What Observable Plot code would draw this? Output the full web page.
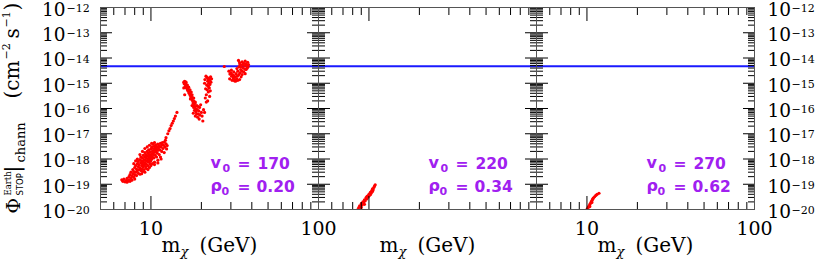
<!DOCTYPE html>
<html><head><meta charset="utf-8">
<script src="https://cdn.jsdelivr.net/npm/d3@7"></script>
<script src="https://cdn.jsdelivr.net/npm/@observablehq/plot@0.6"></script>
<style>html,body{margin:0;padding:0;background:#fff;} #chart svg{display:block;}</style>
</head><body><div id="chart"></div>
<script>
// ---- data ----
const panels = ["170", "220", "270"];
const v0Labels = ["170", "220", "270"];
const rho0Labels = ["0.20", "0.34", "0.62"];
const blueLimit = [4.7e-15];

// [m_chi (GeV), flux (cm^-2 s^-1)]
const pts170 = [
 [6.7,1.5e-19],[6.8,1.3e-19],[6.9,1.6e-19],[7.0,1.25e-19],[7.1,1.4e-19],[7.2,1.2e-19],[7.2,1.7e-19],[7.3,1.35e-19],
 [7.4,1.5e-19],[7.4,2.0e-19],[7.5,1.3e-19],[7.5,2.4e-19],[7.6,1.7e-19],[7.6,3.0e-19],[7.7,2.1e-19],[7.7,1.45e-19],
 [7.8,2.6e-19],[7.8,3.8e-19],[7.9,1.9e-19],[7.9,3.2e-19],[8.0,2.4e-19],[8.0,4.6e-19],[8.0,1.6e-19],[7.9,6.5e-19],
 [8.1,3.0e-19],[8.1,5.5e-19],[8.1,8.5e-19],[8.2,2.2e-19],[8.2,4.0e-19],[8.3,3.4e-19],[8.3,6.5e-19],[8.3,1.0e-18],
 [8.4,2.7e-19],[8.4,5.0e-19],[8.4,8.0e-19],[8.5,3.8e-19],[8.5,6.0e-19],[8.6,2.5e-19],[8.6,4.5e-19],[8.6,9.5e-19],
 [8.6,1.5e-18],[8.7,3.5e-19],[8.7,7.2e-19],[8.7,1.2e-18],[8.8,5.5e-19],[8.8,4.0e-19],[8.8,8.5e-19],[8.8,2.6e-19],
 [8.9,6.5e-19],[8.9,1.1e-18],[8.9,3.2e-19],[8.9,2.0e-18],[9.0,4.8e-19],[9.0,7.8e-19],[9.0,1.4e-18],[9.1,5.8e-19],
 [9.1,9.5e-19],[9.1,3.8e-19],[9.2,7.0e-19],[9.2,1.2e-18],[9.2,1.8e-18],[9.2,2.6e-18],[9.2,3.0e-19],[9.3,5.0e-19],
 [9.3,8.8e-19],[9.3,1.5e-18],[9.4,6.2e-19],[9.4,1.1e-18],[9.4,4.2e-19],[9.5,8.0e-19],[9.5,1.35e-18],[9.5,2.0e-18],
 [9.5,3.0e-18],[9.6,5.5e-19],[9.6,1.0e-18],[9.6,1.7e-18],[9.6,3.8e-19],[9.7,7.5e-19],[9.7,1.25e-18],[9.7,2.3e-18],
 [9.8,9.0e-19],[9.8,1.5e-18],[9.8,4.6e-19],[9.8,3.5e-18],[9.9,1.1e-18],[9.9,1.9e-18],[9.9,6.5e-19],[10.0,1.3e-18],
 [10.0,2.5e-18],[10.0,8.5e-19],[10.0,5.5e-19],[10.1,1.6e-18],[10.1,1.0e-18],[10.1,3.0e-18],[10.1,4.2e-18],[10.2,2.0e-18],
 [10.2,1.2e-18],[10.2,6.5e-19],[10.3,1.5e-18],[10.3,2.6e-18],[10.3,3.8e-18],[10.4,1.8e-18],[10.4,1.1e-18],[10.5,2.2e-18],
 [10.5,3.2e-18],[10.5,7.5e-19],[10.5,4.5e-18],[10.5,6.0e-19],[10.6,1.4e-18],[10.6,2.7e-18],[10.7,1.9e-18],[10.7,3.6e-18],
 [10.8,2.4e-18],[10.8,1.2e-18],[10.9,3.0e-18],[10.9,1.7e-18],[11.0,2.2e-18],[11.0,3.9e-18],[11.0,9.0e-19],[11.0,7.0e-19],
 [11.1,2.8e-18],[11.2,1.5e-18],[11.2,3.4e-18],[11.3,2.3e-18],[11.4,4.2e-18],[11.4,1.2e-18],[11.5,3.0e-18],[11.5,1.0e-18],
 [11.6,2.0e-18],[11.6,3.7e-18],[11.7,4.5e-18],[11.8,2.6e-18],[11.9,3.5e-18],[12.0,4.6e-18],[12.0,1.8e-18],[12.1,3.0e-18],
 [12.3,4.0e-18],[12.4,2.5e-18],[12.5,3.4e-18],
 [12.2,5.5e-18],[12.3,7.0e-18],[12.6,1.0e-17],[12.8,1.3e-17],[13.0,1.6e-17],[13.2,2.1e-17],[13.4,2.6e-17],[13.6,3.2e-17],
 [13.8,4.0e-17],[14.0,5.0e-17],[14.3,7.0e-17],
 [15.7,1.1e-15],[15.8,9.5e-16],[15.9,1.2e-15],[16.0,1.05e-15],[16.1,8.0e-16],[16.0,7.0e-16],[16.2,9.0e-16],[16.3,6.5e-16],
 [16.4,7.5e-16],[16.5,5.5e-16],[16.6,6.2e-16],[16.7,4.8e-16],[16.8,5.2e-16],[16.9,4.0e-16],[17.0,4.4e-16],[17.1,3.4e-16],
 [17.2,3.8e-16],[17.3,2.9e-16],[17.4,3.2e-16],[17.5,2.5e-16],[17.6,2.2e-16],[17.7,2.7e-16],[17.8,1.9e-16],[17.9,1.6e-16],
 [18.0,2.0e-16],[18.1,1.4e-16],[18.3,1.2e-16],[18.5,1.0e-16],[18.2,8.5e-17],[17.9,6.5e-17],[18.6,7.5e-17],[18.9,9.0e-17],
 [19.2,6.0e-17],[19.5,1.1e-16],[19.0,4.5e-17],[20.0,7.0e-17],[20.4,3.2e-17],[19.6,5.5e-17],[15.9,3.5e-16],[15.7,6.5e-16],
 [16.2,1.1e-15],[16.5,8.5e-16],[16.8,7.0e-16],[17.1,5.5e-16],[17.4,4.5e-16],[17.2,2.4e-16],[17.6,3.5e-16],[18.0,2.6e-16],
 [18.4,1.8e-16],[18.8,1.3e-16],[18.3,1.6e-16],[17.6,1.3e-16],[18.0,1.1e-16],[18.7,6.0e-17],[19.3,8.0e-17],[19.8,1.4e-16],
 [19.1,1.2e-16],[18.4,5.0e-17],[19.4,3.8e-17],[20.2,5.0e-17],[20.6,9.0e-17],
 [21.3,1.9e-15],[21.6,1.7e-15],[21.9,1.5e-15],[22.2,1.6e-15],[22.4,1.3e-15],[21.8,1.2e-15],[22.1,1.0e-15],[22.5,9.0e-16],
 [21.5,8.5e-16],[22.0,7.5e-16],[22.3,6.5e-16],[21.7,5.5e-16],[22.0,4.5e-16],[21.4,3.5e-16],[21.8,2.0e-16],[21.4,1.8e-16],
 [20.9,7.0e-17],[21.0,1.4e-15],[22.7,1.8e-15],[22.8,1.1e-15],[23.0,1.5e-15],[20.9,1.0e-15],[21.2,6.0e-16],[22.6,5.0e-16],
 [21.1,2.6e-16],[22.4,3.0e-16],
 [27.4,4.6e-15],[29.2,3.0e-15],[29.6,2.3e-15],[30.0,2.6e-15],[30.3,1.9e-15],[30.6,2.2e-15],[31.0,1.6e-15],[31.2,2.0e-15],
 [31.6,1.4e-15],[31.9,1.8e-15],[32.2,2.4e-15],[32.5,1.5e-15],[32.8,1.9e-15],[33.0,3.0e-15],[33.3,8.0e-15],[33.5,2.2e-15],
 [33.8,6.5e-15],[34.0,2.6e-15],[34.3,3.5e-15],[34.6,4.5e-15],[34.9,3.0e-15],[35.2,5.5e-15],[35.5,4.0e-15],[35.8,6.2e-15],
 [36.2,5.0e-15],[36.5,3.6e-15],[36.9,5.8e-15],[37.3,4.8e-15],[37.8,6.8e-15],[38.2,5.5e-15],[33.0,1.3e-15],[31.5,1.25e-15],
 [29.5,1.5e-15],[30.5,1.3e-15],[32.0,1.2e-15],[33.8,1.4e-15],[34.5,1.8e-15],[35.0,2.2e-15],[35.8,2.8e-15],[36.5,2.4e-15],
 [37.0,3.5e-15],[37.6,4.0e-15],[38.0,4.5e-15],[34.0,5.5e-15],[35.0,7.0e-15],[36.5,7.5e-15],[32.6,3.8e-15],[31.2,2.8e-15],
 [30.2,3.3e-15],[33.5,4.5e-15]
];
const pts220 = [
 [8.6,1.0e-20],[8.7,1.2e-20],[8.8,1.4e-20],[8.9,1.3e-20],[9.0,1.7e-20],[9.1,1.5e-20],[9.2,2.0e-20],[9.3,1.9e-20],
 [9.4,2.4e-20],[9.5,2.2e-20],[9.6,2.9e-20],[9.7,2.6e-20],[9.8,3.4e-20],[9.9,3.1e-20],[10.0,4.0e-20],[10.1,3.7e-20],
 [10.2,4.8e-20],[10.3,4.4e-20],[10.4,5.6e-20],[10.5,6.5e-20],[10.6,6.0e-20],[10.7,7.5e-20],[10.8,8.5e-20],[10.9,9.5e-20],
 [9.0,1.2e-20],[9.4,1.6e-20],[9.7,3.2e-20],[10.2,3.9e-20],[10.5,5.2e-20]
];
const pts270 = [
 [10.0,1.0e-20],[10.1,1.1e-20],[10.2,1.25e-20],[10.3,1.4e-20],[10.4,1.55e-20],[10.5,1.75e-20],[10.6,2.0e-20],[10.7,2.2e-20],
 [10.8,2.5e-20],[10.9,2.8e-20],[11.1,3.2e-20],[11.3,3.6e-20],[11.5,4.0e-20],[11.8,4.4e-20],[10.4,1.3e-20],[10.7,1.9e-20]
];

// ticks and tick labels
const yDecadeExps = [-20, -19, -18, -17, -16, -15, -14, -13, -12];
const yTickLabels = ["\u221220","\u221219","\u221218","\u221217","\u221216","\u221215","\u221214","\u221213","\u221212"];
const yMinorMult = [2, 3, 4, 5, 6, 7, 8, 9];
const xMajor = [10, 100];
const xMinor = [6, 7, 8, 9, 20, 30, 40, 50, 60, 70, 80, 90];
const xLabelPanels = ["170", "270"];
const xLabelValues = [10, 100];
const xLabelText = ["10", "100"];

// ---- tables built from the arrays ----
const points = [
  ...pts170.map(([m, phi]) => ({panel: "170", m, phi})),
  ...pts220.map(([m, phi]) => ({panel: "220", m, phi})),
  ...pts270.map(([m, phi]) => ({panel: "270", m, phi}))
];
const yMajor = yDecadeExps.map(e => Math.pow(10, e));
const yMinor = yDecadeExps.slice(0, -1).flatMap(e => yMinorMult.map(k => k * Math.pow(10, e)));
const yLabLeft = yDecadeExps.map((e, i) => ({panel: "170", v: Math.pow(10, e), exp: yTickLabels[i]}));
const yLabRight = yDecadeExps.map((e, i) => ({panel: "270", v: Math.pow(10, e), exp: yTickLabels[i]}));
const xLabs = xLabelPanels.flatMap(p => xLabelValues.map((v, i) => ({panel: p, v, t: xLabelText[i]})));
const panelRows = panels.map((p, i) => ({panel: p, v0: v0Labels[i], rho: rho0Labels[i]}));
const firstPanel = [{panel: "170"}];

const serif = "DejaVu Serif";
const sans = "DejaVu Sans";
const purple = "#a020f0";

function ticksY(vals, anchor, size) {
  return Plot.axisY(vals, {anchor, tickSize: -size, facetAnchor: null, fill: "none", label: null, stroke: "#000", strokeWidth: 1});
}
function ticksX(vals, anchor, size) {
  return Plot.axisX(vals, {anchor, tickSize: -size, facetAnchor: null, fill: "none", label: null, stroke: "#000", strokeWidth: 1});
}
// rotated y-axis title piece: X = centre x on screen, Y = start y on screen
function yTitle(str, X, Y, size, family = serif) {
  return Plot.text(firstPanel, {fx: "panel", frameAnchor: "left", text: () => str, rotate: -90, textAnchor: "start",
    dx: X - 99.5, dy: Y - 108, fontSize: size, fontFamily: family, fill: "#000"});
}

const chart = Plot.plot({
  width: 817, height: 273,
  marginTop: 7, marginBottom: 64, marginLeft: 99, marginRight: 63,
  style: {fontFamily: serif, background: "#fff", color: "#000"},
  x: {type: "log", domain: [5, 100], axis: null},
  y: {type: "log", domain: [1e-20, 1e-12], axis: null},
  fx: {domain: panels, axis: null, padding: 0},
  marks: [
    Plot.ruleY(blueLimit, {stroke: "#1a1aff", strokeWidth: 2}),
    Plot.dot(points, {fx: "panel", x: "m", y: "phi", r: 1.6, fill: "#ff0000", stroke: "none", clip: true}),
    ticksY(yMajor, "left", 12), ticksY(yMajor, "right", 12),
    ticksY(yMinor, "left", 7), ticksY(yMinor, "right", 7),
    ticksX(xMajor, "bottom", 13), ticksX(xMajor, "top", 13),
    ticksX(xMinor, "bottom", 7), ticksX(xMinor, "top", 7),
    Plot.frame({stroke: "#555", strokeWidth: 1}),
    // y tick labels
    Plot.text(yLabLeft, {fx: "panel", y: "v", text: () => "10", frameAnchor: "left", textAnchor: "end", dx: -35, dy: 2.5, fontSize: 18.5}),
    Plot.text(yLabLeft, {fx: "panel", y: "v", text: "exp", frameAnchor: "left", textAnchor: "start", lineAnchor: "bottom", dx: -34, dy: 4.5, fontSize: 11}),
    Plot.text(yLabRight, {fx: "panel", y: "v", text: () => "10", frameAnchor: "right", textAnchor: "start", dx: 13, dy: 2.5, fontSize: 18.5}),
    Plot.text(yLabRight, {fx: "panel", y: "v", text: "exp", frameAnchor: "right", textAnchor: "start", lineAnchor: "bottom", dx: 37, dy: 4.5, fontSize: 11}),
    // x tick labels
    Plot.text(xLabs, {fx: "panel", x: "v", text: "t", frameAnchor: "bottom", lineAnchor: "bottom", dy: 25, fontSize: 19}),
    // x titles
    Plot.text(panelRows, {fx: "panel", frameAnchor: "bottom", text: () => "m", textAnchor: "start", lineAnchor: "bottom", dx: -48, dy: 42, fontSize: 20}),
    Plot.text(panelRows, {fx: "panel", frameAnchor: "bottom", text: () => "\u03c7", textAnchor: "start", lineAnchor: "bottom", dx: -29, dy: 46, fontSize: 13, fontStyle: "italic"}),
    Plot.text(panelRows, {fx: "panel", frameAnchor: "bottom", text: () => "(GeV)", textAnchor: "start", lineAnchor: "bottom", dx: -10, dy: 42, fontSize: 20}),
    // v0 / rho0 labels
    Plot.text(panelRows, {fx: "panel", frameAnchor: "bottom-left", text: () => "v", textAnchor: "start", lineAnchor: "bottom", dx: 110, dy: -42, fontSize: 16, fontWeight: "bold", fontFamily: sans, fill: purple}),
    Plot.text(panelRows, {fx: "panel", frameAnchor: "bottom-left", text: () => "0", textAnchor: "start", lineAnchor: "bottom", dx: 122, dy: -38, fontSize: 11, fontWeight: "bold", fontFamily: sans, fill: purple}),
    Plot.text(panelRows, {fx: "panel", frameAnchor: "bottom-left", text: () => "=", textAnchor: "start", lineAnchor: "bottom", dx: 137, dy: -41, fontSize: 15.5, fontWeight: "bold", fontFamily: sans, fill: purple}),
    Plot.text(panelRows, {fx: "panel", frameAnchor: "bottom-left", text: "v0", textAnchor: "start", lineAnchor: "bottom", dx: 157, dy: -41, fontSize: 15.5, fontWeight: "bold", fontFamily: sans, fill: purple}),
    Plot.text(panelRows, {fx: "panel", frameAnchor: "bottom-left", text: () => "\u03c1", textAnchor: "start", lineAnchor: "bottom", dx: 110, dy: -19, fontSize: 16, fontWeight: "bold", fontFamily: sans, fill: purple}),
    Plot.text(panelRows, {fx: "panel", frameAnchor: "bottom-left", text: () => "0", textAnchor: "start", lineAnchor: "bottom", dx: 121, dy: -15, fontSize: 11, fontWeight: "bold", fontFamily: sans, fill: purple}),
    Plot.text(panelRows, {fx: "panel", frameAnchor: "bottom-left", text: () => "=", textAnchor: "start", lineAnchor: "bottom", dx: 137, dy: -18, fontSize: 15.5, fontWeight: "bold", fontFamily: sans, fill: purple}),
    Plot.text(panelRows, {fx: "panel", frameAnchor: "bottom-left", text: "rho", textAnchor: "start", lineAnchor: "bottom", dx: 156, dy: -18, fontSize: 15.5, fontWeight: "bold", fontFamily: sans, fill: purple}),
    // rotated y title
    yTitle("\u03a6", 13, 213, 19),
    yTitle("Earth", 7, 195, 8.5),
    yTitle("STOP", 19, 195, 8.5, sans),
    yTitle("|", 12, 172, 20),
    yTitle("chann", 20, 162, 13),
    yTitle("(cm", 12, 98, 20),
    yTitle("\u22122", 5, 59, 11),
    yTitle("s", 12, 38, 20),
    yTitle("\u22121", 5, 27, 11),
    yTitle(")", 12, 10, 20)
  ]
});
document.getElementById("chart").appendChild(chart);
</script>
</body></html>
